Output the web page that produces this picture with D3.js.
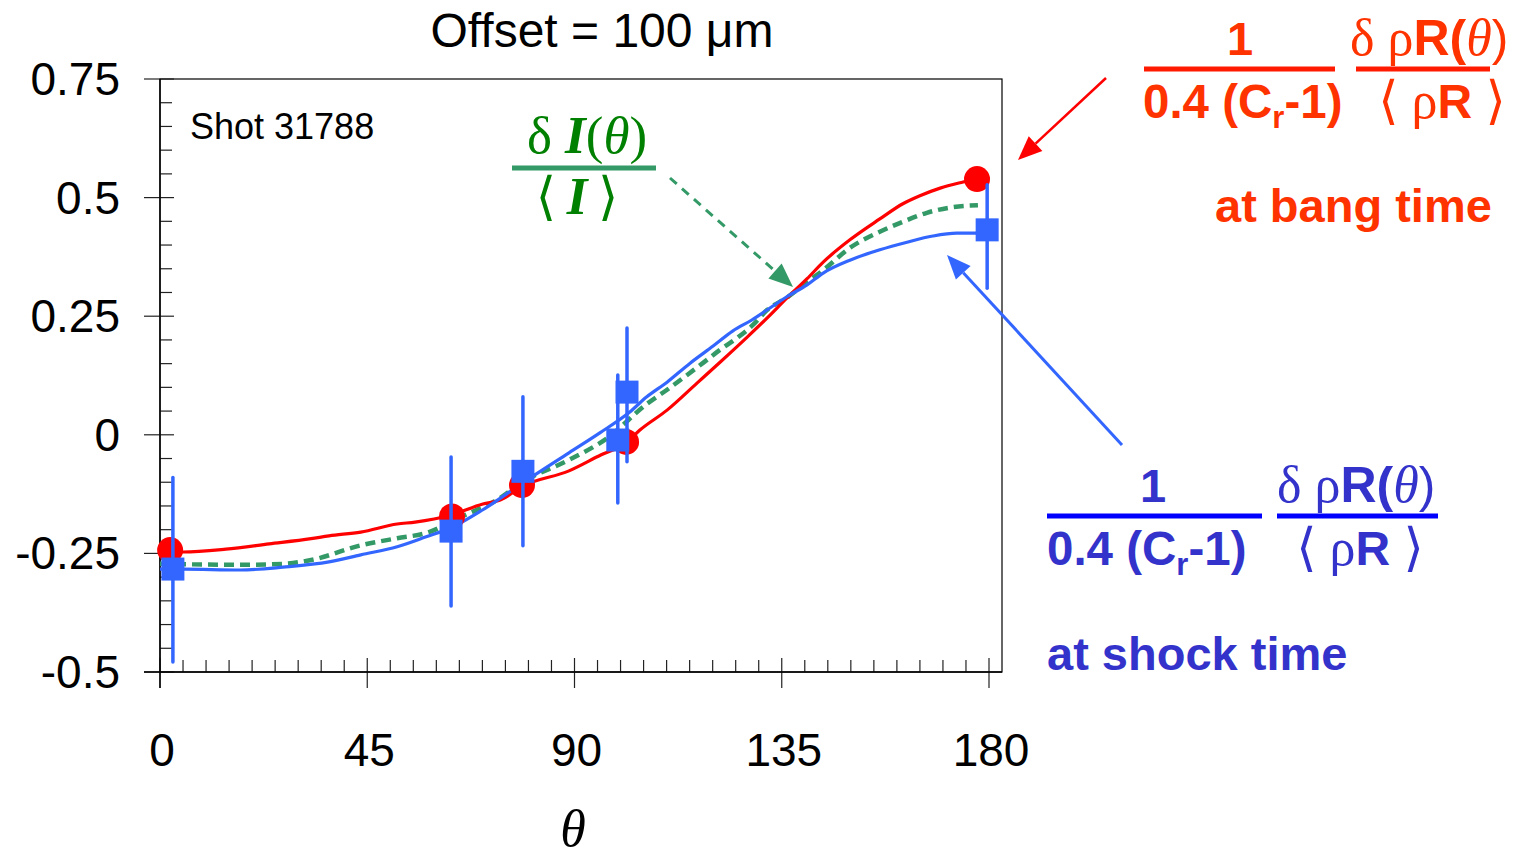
<!DOCTYPE html>
<html><head><meta charset="utf-8">
<script src="https://cdn.jsdelivr.net/npm/d3@7"></script>
<style>body{margin:0;background:#fff}svg{display:block}</style>
</head><body><svg id="c" width="1522" height="859"></svg>
<script>
// ---- data ----
const bangLineTheta = [0.4,5,14.3,23.7,32.8,36.7,43.6,51.5,55.4,63.2,70.1,74,78.8,88.8,95.8,101.2,104.2,110.1,116.6,121.6,127.5,131.8,136.1,140.5,144,149.8,156.3,161.3,165,169.4,174.4,177.4];
const bangLineValue = [-0.245,-0.247,-0.241,-0.230,-0.219,-0.213,-0.205,-0.188,-0.184,-0.169,-0.146,-0.137,-0.108,-0.076,-0.042,-0.017,0.010,0.052,0.109,0.153,0.206,0.246,0.288,0.329,0.364,0.411,0.455,0.487,0.504,0.520,0.533,0.540];
const shockLineTheta = [0,5,17.4,26.7,36.7,43.6,51.5,57.8,63.2,70.1,78.8,88.8,95.5,102,105.7,110.1,115.1,120.1,124.4,128.5,131.8,136.1,140.5,144,149.8,156.3,162.2,167.8,173,177.4,179.6];
const shockLineValue = [-0.283,-0.283,-0.285,-0.279,-0.268,-0.253,-0.236,-0.215,-0.196,-0.158,-0.101,-0.038,0.004,0.048,0.080,0.111,0.151,0.187,0.219,0.242,0.263,0.291,0.316,0.341,0.368,0.390,0.406,0.419,0.425,0.425,0.427];
const intensityTheta = [0,17.4,26.7,32.8,43.6,51.5,57.8,65.4,73.2,78.8,88.8,97.1,105.7,110.1,117.3,121.6,125.3,128.8,131.8,136.1,140.5,144,149.8,156.3,161.3,166.5,172.2,177.6];
const intensityValue = [-0.272,-0.274,-0.272,-0.264,-0.233,-0.218,-0.207,-0.173,-0.137,-0.099,-0.053,-0.007,0.065,0.095,0.147,0.179,0.204,0.232,0.263,0.289,0.322,0.347,0.394,0.428,0.449,0.468,0.480,0.484];
const bangPointTheta = [2.2,63.4,78.6,101.2,177.4];
const bangPointValue = [-0.243,-0.172,-0.106,-0.015,0.539];
const shockPointTheta = [2.8,63.2,78.8,99.4,101.4,179.6];
const shockPointValue = [-0.283,-0.203,-0.077,-0.011,0.090,0.432];
const shockErrLow  = [-0.479,-0.361,-0.234,-0.144,-0.057,0.309];
const shockErrHigh = [-0.090,-0.047,0.080,0.126,0.225,0.527];
const xTickValues = [0,45,90,135,180];
const yTickValues = [-0.5,-0.25,0,0.25,0.5,0.75];
const yTickLabels = ["-0.5","-0.25","0","0.25","0.5","0.75"];

// ---- layout ----
const svg = d3.select("#c");
const x = d3.scaleLinear().domain([0,180]).range([160,989]);
const y = d3.scaleLinear().domain([-0.5,0.75]).range([672,79]);
const xRight = 1002;
const SANS = "'Liberation Sans', Arial, sans-serif";
const SERIF = "'Liberation Serif', 'Times New Roman', serif";
const BR = "'DejaVu Sans'";

// frame
svg.append("rect").attr("x",x(0)).attr("y",y(0.75)).attr("width",xRight-x(0)).attr("height",y(-0.5)-y(0.75))
  .attr("fill","none").attr("stroke","#000").attr("stroke-width",1.2);

// y ticks
const yMinor = d3.range(-0.5,0.7501,0.05).filter(v=>Math.abs(Math.round(v*4)-v*4)>1e-6);
svg.append("g").selectAll("line").data(yMinor).join("line")
  .attr("x1",x(0)).attr("x2",x(0)+12).attr("y1",d=>y(d)).attr("y2",d=>y(d)).attr("stroke","#222").attr("stroke-width",1.2);
svg.append("g").selectAll("line").data(yTickValues).join("line")
  .attr("x1",x(0)-16).attr("x2",x(0)+14).attr("y1",d=>y(d)).attr("y2",d=>y(d)).attr("stroke","#222").attr("stroke-width",1.2);
svg.append("g").selectAll("text").data(yTickValues).join("text")
  .attr("x",120).attr("y",d=>y(d)+16).attr("text-anchor","end")
  .attr("font-family",SANS).attr("font-size",46).text((d,i)=>yTickLabels[i]);

// x ticks
const xMinor = d3.range(5,181,5).filter(v=>v%45!==0);
svg.append("g").selectAll("line").data(xMinor).join("line")
  .attr("x1",d=>x(d)).attr("x2",d=>x(d)).attr("y1",y(-0.5)).attr("y2",y(-0.5)-12).attr("stroke","#222").attr("stroke-width",1.2);
svg.append("g").selectAll("line").data(xTickValues).join("line")
  .attr("x1",d=>x(d)).attr("x2",d=>x(d)).attr("y1",y(-0.5)+16).attr("y2",y(-0.5)-14).attr("stroke","#222").attr("stroke-width",1.2);
svg.append("g").selectAll("text").data(xTickValues).join("text")
  .attr("x",d=>x(d)+2).attr("y",766).attr("text-anchor","middle")
  .attr("font-family",SANS).attr("font-size",46).text(d=>d);
// axis lines
svg.append("line").attr("x1",x(0)).attr("x2",x(0)).attr("y1",y(0.75)).attr("y2",y(-0.5)+16).attr("stroke","#000").attr("stroke-width",1.4);
svg.append("line").attr("x1",x(0)-16).attr("x2",xRight).attr("y1",y(-0.5)).attr("y2",y(-0.5)).attr("stroke","#000").attr("stroke-width",1.6);

// titles
svg.append("text").attr("x",602).attr("y",47).attr("text-anchor","middle").attr("font-family",SANS).attr("font-size",48)
  .text("Offset = 100 \u03BCm");
svg.append("text").attr("x",573).attr("y",846).attr("text-anchor","middle").attr("font-family",SERIF).attr("font-style","italic").attr("font-size",52)
  .text("\u03B8");
svg.append("text").attr("x",190).attr("y",139).attr("font-family",SANS).attr("font-size",36).text("Shot 31788");

// lines
const line = d3.line().curve(d3.curveMonotoneX);
const pts = (t,v)=>t.map((d,i)=>[x(d),y(v[i])]);
svg.append("path").attr("d",line(pts(intensityTheta,intensityValue))).attr("fill","none")
  .attr("stroke","#339966").attr("stroke-width",4.5).attr("stroke-dasharray","10,6");
svg.append("path").attr("d",line(pts(bangLineTheta,bangLineValue))).attr("fill","none")
  .attr("stroke","#ff0000").attr("stroke-width",3.2);
svg.append("path").attr("d",line(pts(shockLineTheta,shockLineValue))).attr("fill","none")
  .attr("stroke","#3366ff").attr("stroke-width",3.2);

// red circles
svg.append("g").selectAll("circle").data(bangPointTheta).join("circle")
  .attr("cx",d=>x(d)).attr("cy",(d,i)=>y(bangPointValue[i])).attr("r",13).attr("fill","#ff0000");
// blue error bars
svg.append("g").selectAll("line").data(shockPointTheta).join("line")
  .attr("x1",d=>x(d)).attr("x2",d=>x(d)).attr("y1",(d,i)=>y(shockErrLow[i])).attr("y2",(d,i)=>y(shockErrHigh[i]))
  .attr("stroke","#3366ff").attr("stroke-width",3.5).attr("stroke-linecap","round");
// blue squares
svg.append("g").selectAll("rect").data(shockPointTheta).join("rect")
  .attr("x",d=>x(d)-11.5).attr("y",(d,i)=>y(shockPointValue[i])-11.5).attr("width",23).attr("height",23).attr("fill","#3366ff");

// arrows
function arrow(x1,y1,x2,y2,color,w,dash,hl,hw){
  const a=Math.atan2(y2-y1,x2-x1);
  const bx=x2-hl*Math.cos(a), by=y2-hl*Math.sin(a);
  const l=svg.append("line").attr("x1",x1).attr("y1",y1).attr("x2",bx).attr("y2",by).attr("stroke",color).attr("stroke-width",w);
  if(dash) l.attr("stroke-dasharray",dash);
  const px=-Math.sin(a)*hw/2, py=Math.cos(a)*hw/2;
  svg.append("path").attr("d",`M${x2},${y2}L${bx+px},${by+py}L${bx-px},${by-py}Z`).attr("fill",color);
}
arrow(670,178,793,287,"#339966",3,"9,7",24,20);
arrow(1106,78,1018,160,"#ff0000",2.5,null,24,20);
arrow(1122,445,947,255,"#3366ff",3,null,24,20);

function brackets(t, inner){
  t.append("tspan").attr("font-family",BR).attr("font-size",52).attr("font-weight","normal").attr("font-style","normal").text("\u27E8");
  inner(t);
  t.append("tspan").attr("font-family",BR).attr("font-size",52).attr("font-weight","normal").attr("font-style","normal").text("\u27E9");
}

// green fraction
const g1 = svg.append("g").attr("fill","#008000");
g1.append("text").attr("x",587).attr("y",153).attr("text-anchor","middle").attr("font-size",53).attr("font-family",SERIF)
  .call(t=>{t.append("tspan").text("\u03B4 ");t.append("tspan").attr("font-weight","bold").attr("font-style","italic").text("I");
    t.append("tspan").text("(");t.append("tspan").attr("font-style","italic").text("\u03B8");t.append("tspan").text(")");});
svg.append("line").attr("x1",512).attr("x2",656).attr("y1",168).attr("y2",168).attr("stroke","#339966").attr("stroke-width",5);
g1.append("text").attr("x",577).attr("y",214).attr("text-anchor","middle").attr("font-size",53).attr("font-family",SERIF)
  .call(t=>brackets(t, tt=>{tt.append("tspan").attr("font-weight","bold").attr("font-style","italic").text("\u2009I\u2009");}));

// formula block
function formula(o){
  const g=svg.append("g").attr("fill",o.color);
  g.append("text").attr("x",o.numX).attr("y",o.oy).attr("text-anchor","middle").attr("font-family",SANS).attr("font-weight","bold").attr("font-size",47).text("1");
  svg.append("line").attr("x1",o.bar1[0]).attr("x2",o.bar1[1]).attr("y1",o.oy+14).attr("y2",o.oy+14).attr("stroke",o.barColor).attr("stroke-width",5);
  g.append("text").attr("x",o.denX).attr("y",o.oy+63).attr("font-family",SANS).attr("font-weight","bold").attr("font-size",47.5)
    .call(t=>{t.append("tspan").text("0.4 (C");t.append("tspan").attr("font-size",31).attr("dy",10).text("r");t.append("tspan").attr("dy",-10).text("-1)");});
  g.append("text").attr("x",o.num2X).attr("y",o.oy).attr("font-family",SERIF).attr("font-size",52)
    .call(t=>{t.append("tspan").text("\u03B4 \u03C1");t.append("tspan").attr("font-family",SANS).attr("font-weight","bold").attr("font-size",50).text("R(");
      t.append("tspan").attr("font-style","italic").text("\u03B8");t.append("tspan").attr("font-family",SANS).attr("font-size",50).text(")");});
  svg.append("line").attr("x1",o.bar2[0]).attr("x2",o.bar2[1]).attr("y1",o.oy+14).attr("y2",o.oy+14).attr("stroke",o.barColor).attr("stroke-width",5);
  g.append("text").attr("x",o.den2X).attr("y",o.oy+63).attr("text-anchor","middle").attr("font-family",SERIF).attr("font-size",52)
    .call(t=>brackets(t, tt=>{tt.append("tspan").text(" \u03C1");
      tt.append("tspan").attr("font-family",SANS).attr("font-weight","bold").attr("font-size",48).text("R ");}));
  g.append("text").attr("x",o.tagX).attr("y",o.tagY).attr("font-family",SANS).attr("font-weight","bold").attr("font-size",47).text(o.tag);
}
formula({oy:55,color:"#ff3300",barColor:"#ff1a00",numX:1240,bar1:[1144,1335],denX:1143,num2X:1350,bar2:[1356,1490],den2X:1442,tag:"at bang time",tagX:1215,tagY:222});
formula({oy:502,color:"#3333cc",barColor:"#0000ff",numX:1153,bar1:[1047,1262],denX:1047,num2X:1277,bar2:[1277,1438],den2X:1360,tag:"at shock time",tagX:1047,tagY:670});
</script></body></html>
